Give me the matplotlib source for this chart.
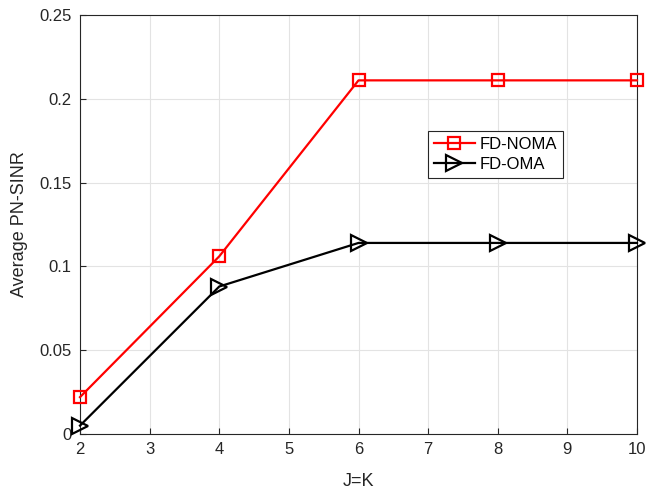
import matplotlib
matplotlib.use("Agg")
from matplotlib import pyplot as plt

jk = [2, 4, 6, 8, 10]
noma = [0.022, 0.106, 0.211, 0.211, 0.211]
oma = [0.005, 0.088, 0.114, 0.114, 0.114]

plt.rcParams['font.family'] = ['Liberation Sans', 'DejaVu Sans']

fig = plt.figure(figsize=(6.49, 4.91), dpi=100)
# axes box: x 80..637 px, y 15..434 px
ax = fig.add_axes([80/649, 57/491, 557/649, 419/491])

ax.plot(jk, noma, color="red", marker="s", markersize=9, markerfacecolor="none",
        markeredgewidth=1.6, linewidth=1.6, label="FD-NOMA", clip_on=False, zorder=3)
ax.plot(jk, oma, color="black", marker=">", markersize=12, markerfacecolor="none",
        markeredgewidth=1.6, linewidth=1.6, label="FD-OMA", clip_on=False, zorder=3)

ax.set_xlim(2, 10)
ax.set_ylim(0, 0.25)
ax.set_xticks(range(2, 11))
ax.set_yticks([0, 0.05, 0.1, 0.15, 0.2, 0.25])
ax.set_yticklabels(["0", "0.05", "0.1", "0.15", "0.2", "0.25"])
ax.grid(True, color="#e3e3e3", linewidth=0.8)
ax.set_axisbelow(True)
for s in ax.spines.values():
    s.set_color("#262626")
    s.set_linewidth(0.8)
ax.tick_params(direction="in", labelsize=12, colors="#262626", length=4, pad=6)
ax.set_xlabel("J=K", fontsize=13, color="#262626", labelpad=11)
ax.set_ylabel("Average PN-SINR", fontsize=13, color="#262626", labelpad=8)

leg = ax.legend(loc="upper left", bbox_to_anchor=(0.625, 0.722), fontsize=12,
                fancybox=False, edgecolor="#262626", framealpha=1,
                handlelength=2.45, handletextpad=0.3, borderpad=0.35,
                labelspacing=0.3, borderaxespad=0)
leg.get_frame().set_linewidth(0.8)

fig.savefig("out.png", dpi=100)
